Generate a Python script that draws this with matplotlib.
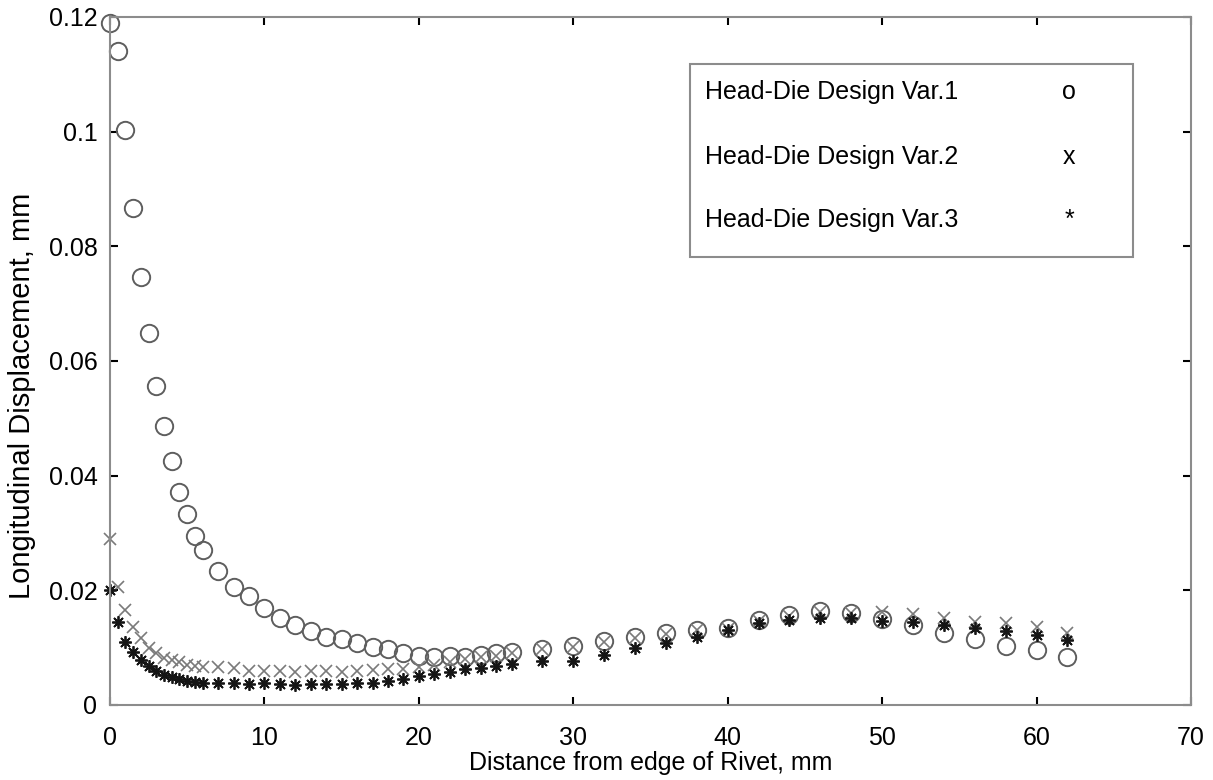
import matplotlib.pyplot as plt
import numpy as np
from matplotlib.patches import Rectangle

# Distance from rivet edge (mm)
dist = [0, 0.5, 1, 1.5, 2, 2.5, 3, 3.5, 4, 4.5, 5, 5.5, 6,
        7, 8, 9, 10, 11, 12, 13, 14, 15, 16, 17, 18, 19, 20, 21, 22, 23, 24, 25, 26,
        28, 30, 32, 34, 36, 38, 40, 42, 44, 46, 48, 50, 52, 54, 56, 58, 60, 62]

var1 = [0.119, 0.114, 0.1003, 0.0867, 0.0747, 0.0649, 0.0557, 0.0487, 0.0426, 0.0372, 0.0333, 0.0295, 0.027,
        0.0234, 0.0206, 0.0190, 0.0169, 0.0152, 0.0140, 0.0129, 0.0119, 0.0115, 0.0108, 0.0101, 0.0098, 0.0091,
        0.0086, 0.0084, 0.0086, 0.0084, 0.0087, 0.0090, 0.0093,
        0.0098, 0.0103, 0.0112, 0.0119, 0.0126, 0.0131, 0.0134, 0.0148, 0.0157, 0.0164, 0.0160, 0.0150,
        0.0140, 0.0126, 0.0115, 0.0103, 0.0096, 0.0083]

var2 = [0.029, 0.0205, 0.0166, 0.0136, 0.0117, 0.0099, 0.0091, 0.0082, 0.0079, 0.0075, 0.0070, 0.0068, 0.0066,
        0.0066, 0.0064, 0.0060, 0.0060, 0.0059, 0.0058, 0.0059, 0.0060, 0.0058, 0.0060, 0.0061, 0.0062, 0.0063,
        0.0066, 0.0070, 0.0075, 0.0080, 0.0083, 0.0086, 0.0090,
        0.0097, 0.0101, 0.0110, 0.0117, 0.0124, 0.0130, 0.0133, 0.0146, 0.0155, 0.0163, 0.0160, 0.0162,
        0.0159, 0.0152, 0.0145, 0.0143, 0.0136, 0.0126]

var3 = [0.020, 0.0145, 0.0110, 0.0092, 0.0078, 0.0068, 0.0060, 0.0053, 0.0048, 0.0045, 0.0042, 0.0040, 0.0039,
        0.0038, 0.0038, 0.0037, 0.0038, 0.0036, 0.0035, 0.0036, 0.0037, 0.0036, 0.0038, 0.0039, 0.0042, 0.0046,
        0.0050, 0.0054, 0.0058, 0.0062, 0.0065, 0.0068, 0.0072,
        0.0076, 0.0077, 0.0087, 0.0099, 0.0108, 0.0118, 0.0131, 0.0143, 0.0148, 0.0152, 0.0152, 0.0147,
        0.0145, 0.0140, 0.0134, 0.0129, 0.0122, 0.0113]

legend_labels = ['Head-Die Design Var.1', 'Head-Die Design Var.2', 'Head-Die Design Var.3']
legend_symbols = ['o', 'x', '*']

plt.rcParams['font.family'] = ['Liberation Sans', 'DejaVu Sans']

W, H = 1213, 780
fig = plt.figure(figsize=(W / 100, H / 100), dpi=100)
ax = fig.add_axes([110 / W, 1 - 705 / H, (1191 - 110) / W, (705 - 17) / H])

ax.plot(dist, var1, linestyle='none', marker='o', markersize=12.5, markerfacecolor='none',
        markeredgecolor='#5e5e5e', markeredgewidth=1.4, clip_on=False)
ax.plot(dist, var2, linestyle='none', marker='x', markersize=8,
        markeredgecolor='#7a7a7a', markeredgewidth=1.2, clip_on=False)
ax.plot(dist, var3, linestyle='none', marker=(8, 2, 0), markersize=9,
        markeredgecolor='#151515', markeredgewidth=1.3, clip_on=False)

ax.set_xlim(0, 70)
ax.set_ylim(0, 0.12)
ax.set_xticks(np.arange(0, 71, 10))
ax.set_yticks([0, 0.02, 0.04, 0.06, 0.08, 0.1, 0.12])
ax.set_yticklabels(['0', '0.02', '0.04', '0.06', '0.08', '0.1', '0.12'])
ax.tick_params(direction='in', length=6, width=1.5, color='black', top=True, right=True,
               labelsize=18)
ax.tick_params(axis='x', pad=15)
ax.tick_params(axis='y', pad=9)
for s in ax.spines.values():
    s.set_color('#8c8c8c')
    s.set_linewidth(1.5)

ax.set_xlabel('Distance from edge of Rivet, mm', fontsize=18, labelpad=1)
# y-Beschriftung etwas tiefer als Achsenmitte, wie im Original
fig.text(22 / W, 1 - 396 / H, 'Longitudinal Displacement, mm', fontsize=21,
         rotation=90, ha='center', va='center')

# Textlegende wie im Original
box = Rectangle((690 / W, 1 - 257 / H), (1133 - 690) / W, (257 - 64) / H, transform=fig.transFigure,
                facecolor='white', edgecolor='#8c8c8c', linewidth=1.5)
fig.add_artist(box)
rows = [92, 157, 220]
for lab, sym, py in zip(legend_labels, legend_symbols, rows):
    fig.text(705 / W, 1 - py / H, lab, fontsize=18, va='center', ha='left')
    fig.text(1069 / W, 1 - py / H, sym, fontsize=18, va='center', ha='center')

plt.savefig('out.png', dpi=100)
